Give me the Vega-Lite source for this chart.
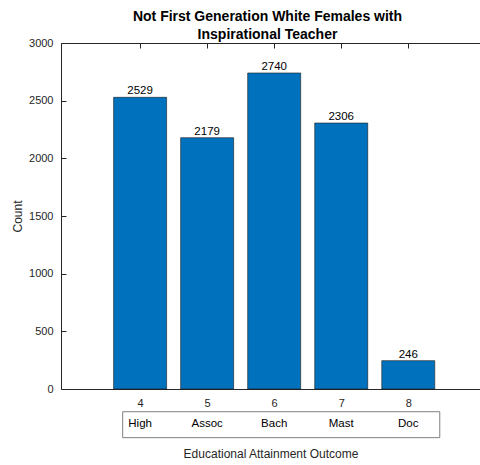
{
  "$schema": "https://vega.github.io/schema/vega-lite/v6.json",
  "autosize": "none",
  "width": 419,
  "height": 346,
  "padding": {"left": 61, "top": 43, "right": 0, "bottom": 76},
  "background": "white",
  "config": {
    "font": "Liberation Sans",
    "view": {"stroke": null},
    "axis": {"grid": false, "domainColor": "#262626", "tickColor": "#262626", "labelColor": "#262626", "titleColor": "#262626", "labelFontSize": 11, "titleFontSize": 12, "titleFontWeight": "normal", "labelFont": "Liberation Sans", "titleFont": "Liberation Sans"}
  },
  "title": {
    "text": ["Not First Generation White Females with", "Inspirational Teacher"],
    "fontSize": 14,
    "fontWeight": "bold",
    "color": "#000000",
    "font": "Liberation Sans",
    "anchor": "middle",
    "lineHeight": 18,
    "offset": -5,
    "dx": -3
  },
  "data": {
    "values": [
      {"code": 4, "label": "High", "count": 2529},
      {"code": 5, "label": "Assoc", "count": 2179},
      {"code": 6, "label": "Bach", "count": 2740},
      {"code": 7, "label": "Mast", "count": 2306},
      {"code": 8, "label": "Doc", "count": 246}
    ]
  },
  "resolve": {"axis": {"x": "independent"}},
  "layer": [
    {
      "mark": {"type": "bar", "size": 53, "fill": "#0072BD", "stroke": "#1a1a1a", "strokeWidth": 0.6},
      "encoding": {
        "x": {"field": "code", "type": "quantitative", "scale": {"domain": [2.82, 9.07], "nice": false, "zero": false, "padding": 0},
          "axis": {"values": [4, 5, 6, 7, 8], "orient": "bottom", "tickSize": -5, "labelPadding": 13, "title": "Educational Attainment Outcome", "titlePadding": 40, "labelFlush": false}},
        "y": {"field": "count", "type": "quantitative", "scale": {"domain": [0, 3000], "nice": false, "padding": 0},
          "axis": {"values": [0, 500, 1000, 1500, 2000, 2500, 3000], "format": "d", "tickSize": -5, "labelPadding": 13, "title": "Count", "titlePadding": 4, "labelFlush": false}}
      }
    },
    {
      "mark": {"type": "text", "baseline": "bottom", "dy": -1, "fontSize": 11.5, "color": "#000000"},
      "encoding": {
        "x": {"field": "code", "type": "quantitative",
          "axis": {"orient": "top", "values": [4, 5, 6, 7, 8], "labels": false, "tickSize": -5, "title": null}},
        "y": {"field": "count", "type": "quantitative"},
        "text": {"field": "count", "type": "quantitative", "format": "d"}
      }
    },
    {
      "mark": {"type": "text", "baseline": "middle", "fontSize": 11.5, "color": "#000000"},
      "encoding": {
        "x": {"field": "code", "type": "quantitative", "axis": null},
        "y": {"datum": -300},
        "text": {"field": "label", "type": "nominal"}
      }
    },
    {
      "data": {"values": [{}]},
      "mark": {"type": "rect", "fill": null, "stroke": "#7f7f7f", "strokeWidth": 1},
      "encoding": {
        "x": {"datum": 3.74, "type": "quantitative", "axis": null},
        "x2": {"datum": 8.47},
        "y": {"datum": -197},
        "y2": {"datum": -422}
      }
    }
  ]
}
